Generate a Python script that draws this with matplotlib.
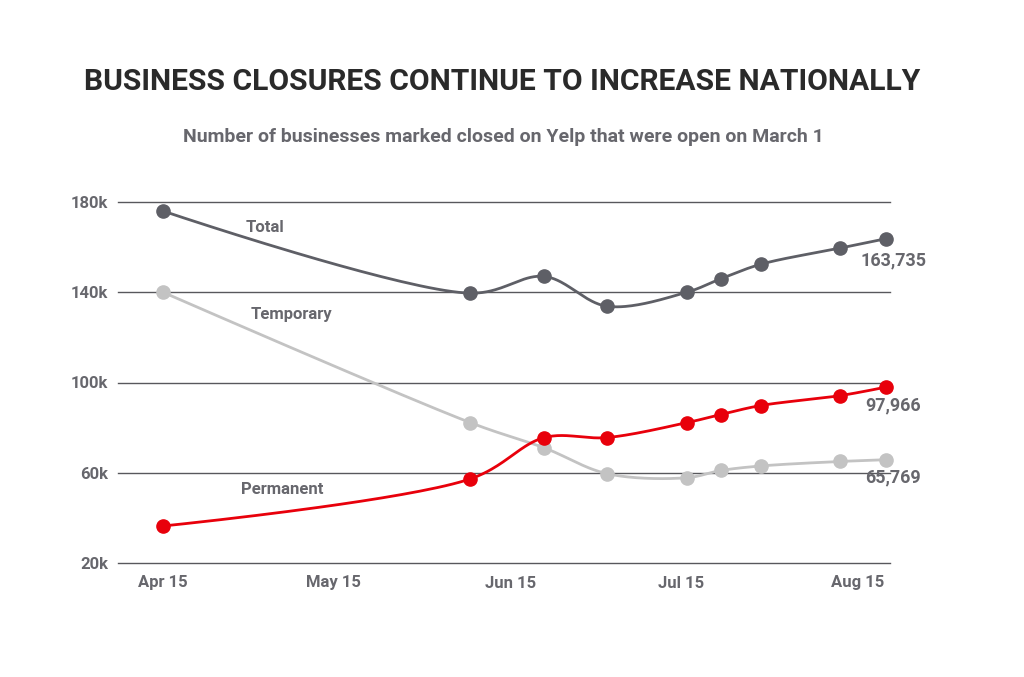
import numpy as np
import pandas as pd
import matplotlib
matplotlib.use("Agg")
import matplotlib.pyplot as plt

plt.rcParams["font.family"] = ["Roboto", "DejaVu Sans"]
plt.rcParams["font.weight"] = "bold"

# data (thousands of businesses)
dates = ["2020-04-15", "2020-06-08", "2020-06-21", "2020-07-02", "2020-07-16",
         "2020-07-22", "2020-07-29", "2020-08-12", "2020-08-20"]
total = [176.0, 139.6, 147.0, 133.8, 140.0, 146.0, 152.4, 159.6, 163.735]
temporary = [140.0, 82.2, 71.0, 59.6, 57.8, 61.0, 63.0, 65.0, 65.769]
permanent = [36.4, 57.3, 75.6, 75.6, 82.2, 85.8, 89.8, 94.2, 97.966]

tick_dates = ["2020-04-15", "2020-05-15", "2020-06-15", "2020-07-15", "2020-08-15"]
tick_labels = ["Apr 15", "May 15", "Jun 15", "Jul 15", "Aug 15"]
y_ticks = [20, 60, 100, 140, 180]
y_labels = ["20k", "60k", "100k", "140k", "180k"]

end_labels = ["163,735", "97,966", "65,769"]

DARK = "#5e5f66"
LIGHT = "#c3c3c3"
RED = "#e8000b"
TEXT = "#67676d"

start = pd.Timestamp("2020-04-15")
x = np.array([(pd.Timestamp(d) - start).days for d in dates], dtype=float)
xt = np.array([(pd.Timestamp(d) - start).days for d in tick_dates], dtype=float)


def catmull_rom(ax, xs, ys, n=40, alpha=0.5):
    # centripetal catmull-rom, done in pixel space so it looks right
    pts = ax.transData.transform(np.column_stack([xs, ys]))
    pts = np.vstack([pts[0], pts, pts[-1]])
    out = []
    for i in range(len(pts) - 3):
        p0, p1, p2, p3 = pts[i:i + 4]
        t0 = 0.0
        t1 = t0 + max(np.linalg.norm(p1 - p0), 1e-6) ** alpha
        t2 = t1 + max(np.linalg.norm(p2 - p1), 1e-6) ** alpha
        t3 = t2 + max(np.linalg.norm(p3 - p2), 1e-6) ** alpha
        t = np.linspace(t1, t2, n)[:, None]
        a1 = (t1 - t) / (t1 - t0) * p0 + (t - t0) / (t1 - t0) * p1
        a2 = (t2 - t) / (t2 - t1) * p1 + (t - t1) / (t2 - t1) * p2
        a3 = (t3 - t) / (t3 - t2) * p2 + (t - t2) / (t3 - t2) * p3
        b1 = (t2 - t) / (t2 - t0) * a1 + (t - t0) / (t2 - t0) * a2
        b2 = (t3 - t) / (t3 - t1) * a2 + (t - t1) / (t3 - t1) * a3
        c = (t2 - t) / (t2 - t1) * b1 + (t - t1) / (t2 - t1) * b2
        out.append(c)
    out = np.vstack(out)
    return ax.transData.inverted().transform(out)


fig = plt.figure(figsize=(10.24, 6.77), dpi=100)
fig.patch.set_facecolor("white")
ax = fig.add_axes([118 / 1024, 114 / 677, 772 / 1024, 361 / 677])

# x scale: points from Apr 15 (~163px) to Aug 20 (~886px)
px_per_day = (886 - 163) / 127.0
ax.set_xlim(-(163 - 118) / px_per_day, (890 - 163) / px_per_day)
ax.set_ylim(20, 180)

for s in ax.spines.values():
    s.set_visible(False)
for yv in y_ticks:
    ax.axhline(yv, color="#58585c", lw=1.0, zorder=1, clip_on=False)

ax.set_yticks(y_ticks)
ax.set_yticklabels(y_labels)
ax.set_xticks(xt)
ax.set_xticklabels(tick_labels)
ax.tick_params(length=0, labelsize=12, labelcolor=TEXT)
ax.tick_params(axis="y", pad=7)
ax.tick_params(axis="x", pad=9)

for ys, col in [(temporary, LIGHT), (total, DARK), (permanent, RED)]:
    curve = catmull_rom(ax, x, ys)
    ax.plot(curve[:, 0], curve[:, 1], color=col, lw=2.0, zorder=3,
            solid_capstyle="round", clip_on=False)
    ax.plot(x, ys, "o", color=col, ms=9.5, zorder=4, clip_on=False)

# series names
ax.text(18.0, 168.9, "Total", color=TEXT, fontsize=12, ha="center", va="center")
ax.text(22.5, 130.2, "Temporary", color=TEXT, fontsize=12, ha="center", va="center")
ax.text(21.0, 52.4, "Permanent", color=TEXT, fontsize=12, ha="center", va="center")

# last values
for ys, lab, dy in [(total, end_labels[0], -22), (permanent, end_labels[1], -18),
                    (temporary, end_labels[2], -18)]:
    ax.annotate(lab, (x[-1], ys[-1]), xytext=(7, dy), textcoords="offset pixels",
                ha="center", va="center", color=TEXT, fontsize=13)

fig.text(502 / 1024, 1 - 82 / 677, "BUSINESS CLOSURES CONTINUE TO INCREASE NATIONALLY",
         ha="center", va="center", color="#2a2a2a", fontsize=21.6, fontweight="bold")
fig.text(503 / 1024, 1 - 137 / 677,
         "Number of businesses marked closed on Yelp that were open on March 1",
         ha="center", va="center", color=TEXT, fontsize=14, fontweight="bold")

fig.savefig("out.png", dpi=100, facecolor="white")
